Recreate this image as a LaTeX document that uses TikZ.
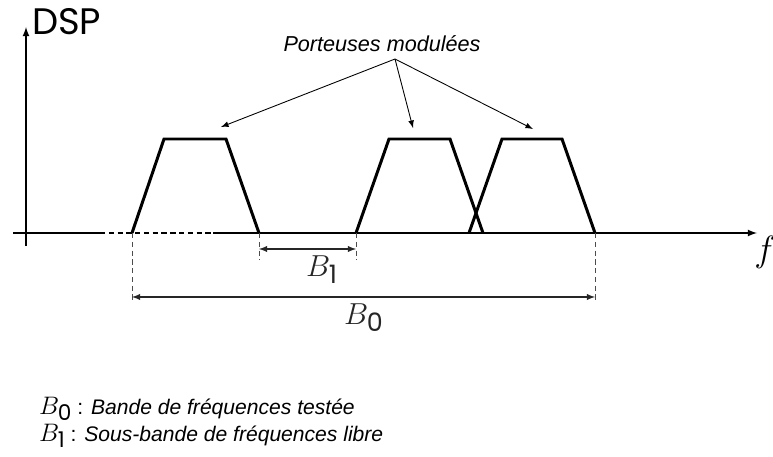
\documentclass[tikz,border=0pt]{standalone}
\usepackage{fontspec}
\setmainfont{Liberation Sans}
\newfontfamily\dspfont{Poppins}
\newcommand\bnd[1]{$B$\kern-0.8pt\raisebox{-0.45ex}{\scalebox{0.85}{\dspfont #1}}}
\begin{document}
\begin{tikzpicture}[x=0.02cm, y=-0.02cm,
        axis/.style={->, >=latex, line width=0.8pt},
        spectre/.style={line width=1.7pt, line join=miter},
        arrow/.style={->, >=latex, line width=0.5pt},
        cote/.style={<->, >=latex, line width=0.6pt, gray!30!black},
        repere/.style={densely dashed, line width=0.4pt, gray!60!black},
        annot/.style={font=\itshape\fontsize{12.3}{14}\selectfont},
        bande/.style={font=\fontsize{17}{19}\selectfont},
        legende/.style={anchor=base west, font=\fontsize{12}{14}\selectfont}
    ]
    \useasboundingbox (0,0) rectangle (773,456);

    \coordinate (xdeb) at (13,233);
    \coordinate (xpt1) at (100,233);
    \coordinate (xpt2) at (213,233);
    \coordinate (xfin) at (757,233);
    \coordinate (ybas) at (26,246);
    \coordinate (yhaut) at (26,27);

    \draw[axis, -] (xdeb) -- (xpt1);
    \draw[line width=0.8pt, densely dashed] (xpt1) -- (xpt2);
    \draw[axis] (xpt2) -- (xfin);
    \draw[axis] (ybas) -- (yhaut);
    \node[anchor=west, font=\dspfont\fontsize{21}{22}\selectfont] (dsp) at (26,22) {DSP};
    \node[font=\fontsize{21}{22}\selectfont] (freq) at (765,252) {$f$};

    \draw[spectre] (132,233) -- (164,139) -- (226,139) -- (259,233);
    \draw[spectre] (356,233) -- (389,139) -- (450,139) -- (483,233);
    \draw[spectre] (469,233) -- (502,139) -- (562,139) -- (595,233);

    \node[annot] (porteuses) at (382,44) {Porteuses modulées};
    \coordinate (src) at (395,59);
    \coordinate (mod1) at (221,127);
    \coordinate (mod2) at (413,128);
    \coordinate (mod3) at (533,129);
    \draw[arrow] (src) -- (mod1);
    \draw[arrow] (src) -- (mod2);
    \draw[arrow] (src) -- (mod3);

    \coordinate (b0g) at (132,233);
    \coordinate (b0d) at (595,233);
    \coordinate (b1g) at (259,233);
    \coordinate (b1d) at (356,233);
    \draw[repere] (b0g) -- ++(0,67);
    \draw[repere] (b0d) -- ++(0,67);
    \draw[repere] (b1g) -- ++(0,27);
    \draw[repere] (b1d) -- ++(0,27);
    \draw[cote] ([yshift=-0.32cm]b1g) -- node[bande, below=0pt, xshift=8pt] (lb1) {\bnd{1}} ([yshift=-0.32cm]b1d);
    \draw[cote] ([yshift=-1.28cm]b0g) -- node[bande, below=0pt] (lb0) {\bnd{0}} ([yshift=-1.28cm]b0d);

    \node[legende] (leg0) at (33,414) {{\fontsize{14.5}{16}\selectfont\bnd{0}} : \textit{Bande de fréquences testée}};
    \node[legende] (leg1) at (33,441) {{\fontsize{14.5}{16}\selectfont\bnd{1}} : \textit{Sous-bande de fréquences libre}};
\end{tikzpicture}
\end{document}
